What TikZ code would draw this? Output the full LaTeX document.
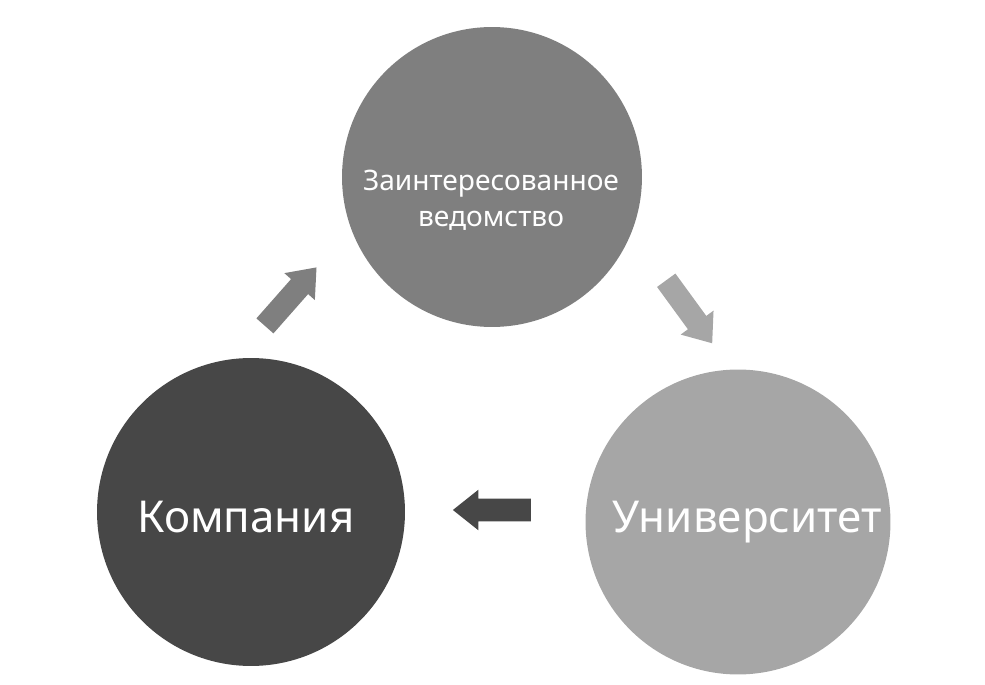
\documentclass[tikz,border=0pt]{standalone}
\usepackage{fontspec}
\setmainfont{Noto Sans}
\usetikzlibrary{shapes.arrows}
\definecolor{midgray}{RGB}{127,127,127}
\definecolor{deepgray}{RGB}{71,71,71}
\definecolor{palegray}{RGB}{166,166,166}

\begin{document}
\begin{tikzpicture}[x=0.02cm, y=0.02cm,
  circ/.style={circle, inner sep=0pt, text=white, align=center},
  blockarrow/.style={single arrow, draw=none, inner xsep=0pt, inner ysep=0.22cm, minimum height=1.56cm, single arrow head extend=0.18cm, single arrow tip angle=77}]
\useasboundingbox (0,0) rectangle (985,684);
\node[circ, fill=midgray, minimum size=6cm] (vedomstvo) at (492,507) {};
\node[circ, fill=deepgray, minimum size=6.16cm] (kompaniya) at (251,172) {};
\node[circ, fill=palegray, minimum size=6.1cm] (universitet) at (738,162) {};
\node[text=white, align=center, font=\fontsize{16}{20.5}\selectfont] (vedtext) at (491,484) {Заинтересованное\\ведомство};
\node[text=white, font=\fontsize{25}{30}\selectfont] (komptext) at (246,167) {Компания};
\node[text=white, font=\fontsize{25}{30}\selectfont] (univtext) at (747,162) {Университет};
\node[blockarrow, fill=midgray, rotate=48.6] (up) at (286,382) {};
\node[blockarrow, fill=palegray, rotate=-53.9] (down) at (685,378) {};
\node[blockarrow, fill=deepgray, rotate=180] (back) at (499,174) {};
\end{tikzpicture}
\end{document}
